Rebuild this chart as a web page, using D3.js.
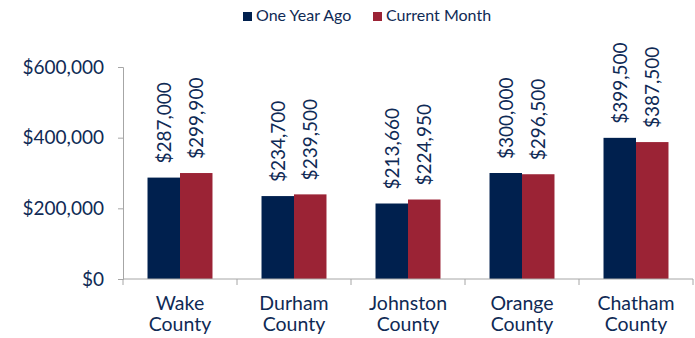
<!DOCTYPE html>
<html>
<head>
<meta charset="utf-8">
<script src="https://cdn.jsdelivr.net/npm/d3@7"></script>
<style>
  body { margin: 0; background: #fff; }
  text { font-family: Lato, "Open Sans", sans-serif; fill: #0f2a55; }
</style>
</head>
<body>
<div class="chart"></div>
<script>
var counties = ['Wake County', 'Durham County', 'Johnston County', 'Orange County', 'Chatham County'];
var seriesNames = ['One Year Ago', 'Current Month'];
var oneYearAgo = [287000, 234700, 213660, 300000, 399500];
var currentMonth = [299900, 239500, 224950, 296500, 387500];
var yTicks = [0, 200000, 400000, 600000];
var colors = ['#00204e', '#9b2335'];

var svgWidth = 695;
var svgHeight = 338;
var margin = { top: 67, right: 2, bottom: 59, left: 123 };
var width = svgWidth - margin.left - margin.right;
var height = svgHeight - margin.top - margin.bottom;

var svg = d3.select('.chart')
  .append('svg')
  .attr('width', svgWidth)
  .attr('height', svgHeight);

var chartGroup = svg.append('g')
  .attr('transform', `translate(${margin.left}, ${margin.top})`);

var data = counties.map(function(c, i) {
  return { county: c, values: [oneYearAgo[i], currentMonth[i]] };
});

// scales
var x0 = d3.scaleBand().domain(counties).range([0, width]).paddingInner(0.43).paddingOuter(0.215);
var x1 = d3.scaleBand().domain([0, 1]).range([0, x0.bandwidth()]);
var y = d3.scaleLinear().domain([0, 600000]).range([height, 0]);

// y axis
var leftAxis = d3.axisLeft(y).tickValues(yTicks).tickSize(5).tickPadding(14)
  .tickFormat(function(d) { return '$' + d3.format(',')(d); });
var yAxis = chartGroup.append('g').call(leftAxis);
yAxis.select('.domain').attr('stroke', '#a6a6a6');
yAxis.selectAll('.tick line').attr('stroke', '#a6a6a6');
yAxis.selectAll('.tick text').style('font-size', '19px').attr('fill', '#0f2a55');

// bars
var groups = chartGroup.selectAll('.county')
  .data(data)
  .enter()
  .append('g')
  .attr('class', 'county')
  .attr('transform', d => `translate(${x0(d.county)}, 0)`);

groups.selectAll('rect')
  .data(d => d.values)
  .enter()
  .append('rect')
  .attr('x', (d, i) => x1(i))
  .attr('y', d => y(d))
  .attr('width', x1.bandwidth())
  .attr('height', d => height - y(d))
  .attr('fill', (d, i) => colors[i]);

// value labels
groups.selectAll('.val')
  .data(d => d.values)
  .enter()
  .append('text')
  .attr('class', 'val')
  .attr('transform', (d, i) => `translate(${x1(i) + x1.bandwidth() / 2 + 7}, ${y(d) - 14}) rotate(-90)`)
  .style('font-size', '19px')
  .text(d => '$' + d3.format(',')(d));

// x axis
var xAxis = chartGroup.append('g').attr('transform', `translate(0, ${height})`);
xAxis.append('line').attr('x1', 0).attr('x2', width).attr('stroke', '#a6a6a6');
d3.range(counties.length + 1).forEach(function(i) {
  var xx = i * x0.step();
  xAxis.append('line').attr('x1', xx).attr('x2', xx).attr('y1', 0).attr('y2', 6).attr('stroke', '#a6a6a6');
});
counties.forEach(function(c) {
  var words = c.split(' ');
  var t = xAxis.append('text')
    .attr('text-anchor', 'middle')
    .style('font-size', '19.5px');
  words.forEach(function(w, j) {
    t.append('tspan').attr('x', x0(c) + x0.bandwidth() / 2).attr('y', 31 + j * 21).text(w);
  });
});

// legend
var legend = svg.append('g').attr('transform', 'translate(243, 21)');
var lx = [0, 130];
seriesNames.forEach(function(s, i) {
  legend.append('rect').attr('x', lx[i]).attr('y', -9).attr('width', 9).attr('height', 9).attr('fill', colors[i]);
  legend.append('text').attr('x', lx[i] + 13).attr('y', 0).style('font-size', '16px').text(s);
});
</script>
</body>
</html>
